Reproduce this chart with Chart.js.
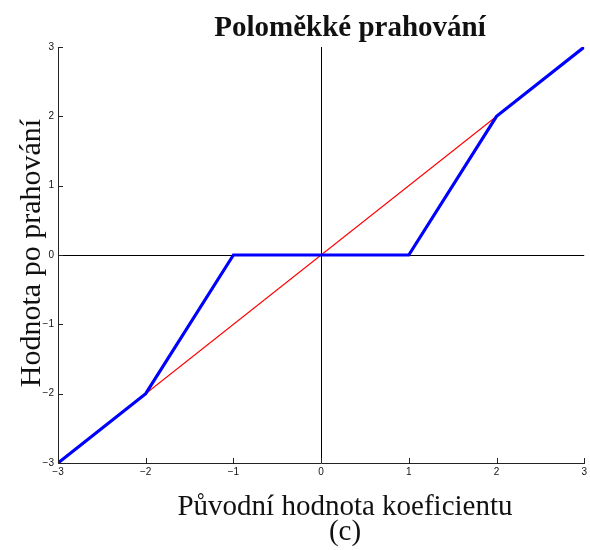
<!DOCTYPE html>
<html><head><meta charset="utf-8">
<script src="https://cdn.jsdelivr.net/npm/chart.js@4/dist/chart.umd.min.js"></script>
<style>html,body{margin:0;padding:0;background:#fff}#wrap{width:590px;height:550px}</style>
</head><body><div id="wrap"><canvas id="c" width="590" height="550"></canvas></div>
<script>
const titleText = "Poloměkké prahování";
const xTitle = "Původní hodnota koeficientu";
const yTitle = "Hodnota po prahování";
const caption = "(c)";
const tickValues = [-3, -2, -1, 0, 1, 2, 3];
const softX = [-3, -2, -1, 1, 2, 3];
const softY = [-3, -2, 0, 0, 2, 3];
const idX = [-3, 3];
const idY = [-3, 3];

const fmt = v => (v < 0 ? "\u2212" + Math.abs(v) : String(v));

const textPlugin = {
  id: 'texts',
  afterDraw(chart) {
    const ctx = chart.ctx, xs = chart.scales.x, ys = chart.scales.y;
    ctx.save();
    // inward ticks
    ctx.strokeStyle = '#222'; ctx.lineWidth = 1;
    const yb = ys.getPixelForValue(-3), xl = xs.getPixelForValue(-3);
    tickValues.forEach(v => {
      const px = Math.round(xs.getPixelForValue(v)) + 0.5;
      ctx.beginPath(); ctx.moveTo(px, yb); ctx.lineTo(px, yb - 5); ctx.stroke();
      const py = Math.round(ys.getPixelForValue(v)) + 0.5;
      ctx.beginPath(); ctx.moveTo(xl, py); ctx.lineTo(xl + 5, py); ctx.stroke();
    });
    ctx.fillStyle = '#111';
    ctx.textAlign = 'center'; ctx.textBaseline = 'alphabetic';
    ctx.font = 'bold 29px "Liberation Serif"';
    ctx.fillText(titleText, 350, 36);
    ctx.font = '29px "Liberation Serif"';
    ctx.fillText(xTitle, 345, 515);
    ctx.fillText(caption, 345, 540);
    ctx.translate(40, 253); ctx.rotate(-Math.PI / 2);
    ctx.font = '30px "Liberation Serif"';
    ctx.fillText(yTitle, 0, 0);
    ctx.restore();
  }
};

new Chart(document.getElementById('c'), {
  type: 'scatter',
  data: {
    datasets: [
      { label: 'soft', data: softX.map((x, i) => ({x, y: softY[i]})), showLine: true,
        borderColor: '#0000ff', borderWidth: 3.2, pointRadius: 0, order: 0, tension: 0 },
      { label: 'identity', data: idX.map((x, i) => ({x, y: idY[i]})), showLine: true,
        borderColor: '#ff0000', borderWidth: 1.2, pointRadius: 0, order: 1, tension: 0 }
    ]
  },
  options: {
    responsive: false, animation: false, devicePixelRatio: 1,
    layout: { padding: { left: 0, top: 47, right: 4, bottom: 0 } },
    plugins: { legend: { display: false }, tooltip: { enabled: false } },
    scales: {
      x: {
        type: 'linear', min: -3, max: 3,
        afterFit: s => { s.height = 87; },
        afterBuildTicks: s => { s.ticks = tickValues.map(v => ({value: v})); },
        ticks: { callback: fmt, font: { family: 'Liberation Sans', size: 10 }, color: '#111', padding: 3, maxRotation: 0 },
        grid: { drawTicks: false, color: c => c.tick && c.tick.value === 0 ? '#000' : 'rgba(0,0,0,0)', lineWidth: 1 },
        border: { display: true, color: '#222', width: 1 }
      },
      y: {
        type: 'linear', min: -3, max: 3,
        afterFit: s => { s.width = 58; },
        afterBuildTicks: s => { s.ticks = tickValues.map(v => ({value: v})); },
        ticks: { callback: fmt, font: { family: 'Liberation Sans', size: 10 }, color: '#111', padding: 4 },
        grid: { drawTicks: false, color: c => c.tick && c.tick.value === 0 ? '#000' : 'rgba(0,0,0,0)', lineWidth: 1 },
        border: { display: true, color: '#222', width: 1 }
      }
    }
  },
  plugins: [textPlugin]
});
</script></body></html>
